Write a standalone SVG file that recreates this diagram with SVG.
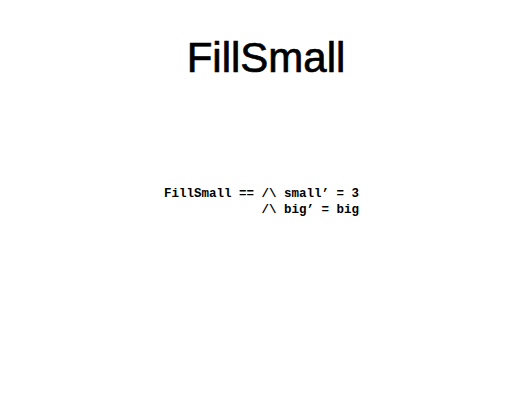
<svg xmlns="http://www.w3.org/2000/svg" width="532" height="400" viewBox="0 0 532 400">
<style>
.title{font-family:"Liberation Sans",Arial,sans-serif;font-size:42px;fill:#000;stroke:#000;stroke-width:0.7px;text-anchor:middle}
.code{font-family:"Liberation Mono","Courier New",monospace;font-size:12.5px;font-weight:bold;fill:#000}
</style>
<rect width="532" height="400" fill="#fff"/>
<g id="title"><text class="title" x="266" y="72">FillSmall</text></g>
<g id="code">
<text class="code" x="164" y="197">FillSmall == /\ small’ = 3</text>
<text class="code" x="261.5" y="213">/\ big’ = big</text>
</g>
</svg>
